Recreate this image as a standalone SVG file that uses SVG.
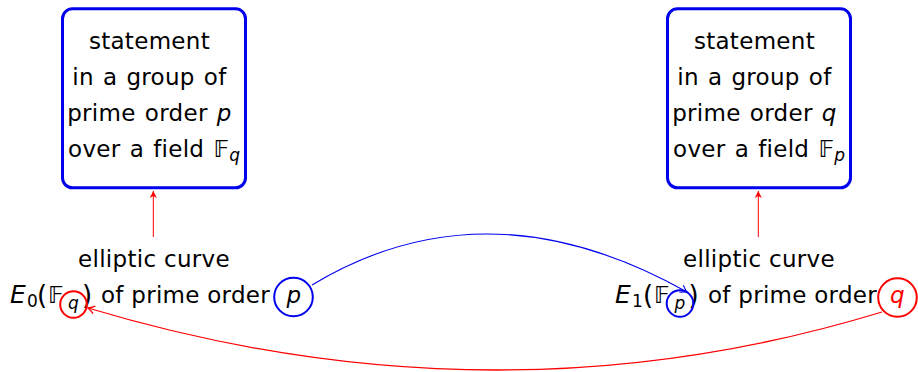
<svg xmlns="http://www.w3.org/2000/svg" width="918" height="372" viewBox="0 0 918 372">
<style>
.t{font-family:"DejaVu Sans","Liberation Sans",sans-serif;font-size:23px;fill:#000;letter-spacing:0.3px}
.w{word-spacing:1.5px}
.i{font-style:italic}
.sub{font-size:17px;letter-spacing:0}
.par{font-size:26px}
.box{fill:#fff;stroke:#0000ee;stroke-width:3}
.bc{fill:none;stroke:#0000ee;stroke-width:2}
.rc{fill:none;stroke:#ff0000;stroke-width:2}
</style>
<defs>
<marker id="fill" markerUnits="userSpaceOnUse" markerWidth="12" markerHeight="12" viewBox="-10 -6 12 12" refX="0" refY="0" orient="auto">
<path d="M0,0 L-7,-3.6 L-5,0 L-7,3.6 Z" fill="#ff0000"/>
</marker>
<marker id="openb" markerUnits="userSpaceOnUse" markerWidth="14" markerHeight="14" viewBox="-10 -7 14 14" refX="0" refY="0" orient="auto">
<path d="M-6.5,-4 Q-2.5,-1 0,0 Q-2.5,1 -6.5,4" fill="none" stroke="#0000ee" stroke-width="1.1"/>
</marker>
<marker id="openr" markerUnits="userSpaceOnUse" markerWidth="14" markerHeight="14" viewBox="-10 -7 14 14" refX="0" refY="0" orient="auto">
<path d="M-6.5,-4 Q-2.5,-1 0,0 Q-2.5,1 -6.5,4" fill="none" stroke="#ff0000" stroke-width="1.3"/>
</marker>
</defs>

<g id="stmt-left">
<rect class="box" x="62.5" y="8.8" width="183" height="179" rx="10"/>
<text class="t w" text-anchor="middle">
<tspan x="154" y="49">statement</tspan>
<tspan x="154" y="85">in a group of</tspan>
<tspan x="154" y="120.5">prime order <tspan class="i">p</tspan></tspan>
<tspan x="154" y="156.5">over a field 𝔽<tspan class="i sub" dy="4">q</tspan></tspan>
</text>
</g>

<g id="stmt-right">
<rect class="box" x="667.5" y="8.8" width="183" height="179" rx="10"/>
<text class="t w" text-anchor="middle">
<tspan x="759" y="49">statement</tspan>
<tspan x="759" y="85">in a group of</tspan>
<tspan x="759" y="120.5">prime order <tspan class="i">q</tspan></tspan>
<tspan x="759" y="156.5">over a field 𝔽<tspan class="i sub" dy="4">p</tspan></tspan>
</text>
</g>

<g id="curve-left">
<text class="t" x="154" y="267" text-anchor="middle">elliptic curve</text>
<text class="t i" x="10" y="303" style="font-size:25px">E</text>
<text class="t sub" x="27" y="307">0</text>
<text class="t par" x="37" y="304">(</text>
<text class="t" x="48" y="303">𝔽</text>
<text class="t i sub" x="68" y="309">q</text>
<text class="t par" x="82" y="304">)</text>
<text class="t" x="101" y="303" textLength="169">of prime order</text>
<text class="t i" x="286.5" y="303">p</text>
<circle class="rc" cx="73.5" cy="304.5" r="13.3"/>
<circle class="bc" cx="293.5" cy="297" r="19.3"/>
</g>

<g id="curve-right">
<text class="t" x="759" y="267" text-anchor="middle">elliptic curve</text>
<text class="t i" x="615" y="303" style="font-size:25px">E</text>
<text class="t sub" x="632" y="307">1</text>
<text class="t par" x="643" y="304">(</text>
<text class="t" x="654" y="303">𝔽</text>
<text class="t i sub" x="674.6" y="309">p</text>
<text class="t par" x="688.5" y="304">)</text>
<text class="t" x="708" y="303" textLength="169">of prime order</text>
<text class="t i" x="890" y="303" style="fill:#ff0000">q</text>
<circle class="bc" cx="680" cy="303.5" r="13.3"/>
<circle class="rc" cx="897.5" cy="297.5" r="19.3"/>
</g>

<g id="connectors" fill="none">
<line x1="153.3" y1="237" x2="153.3" y2="191" stroke="#ff0000" stroke-width="1" marker-end="url(#fill)"/>
<line x1="758.3" y1="237" x2="758.3" y2="191" stroke="#ff0000" stroke-width="1" marker-end="url(#fill)"/>
<path d="M312,285 Q486.5,179.5 687,292" stroke="#0000ee" stroke-width="1.1" marker-end="url(#openb)"/>
<path d="M882,312 Q495,430 88,308" stroke="#ff0000" stroke-width="1.3" marker-end="url(#openr)"/>
</g>
</svg>
